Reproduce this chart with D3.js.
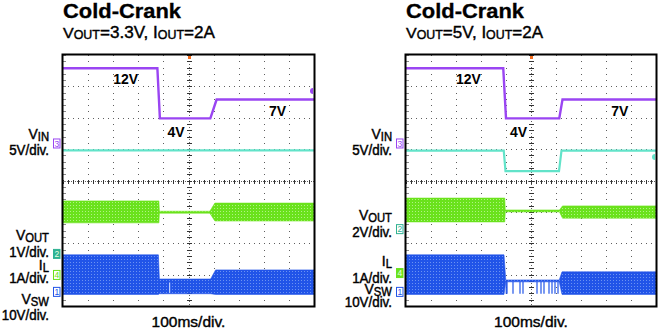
<!DOCTYPE html>
<html><head><meta charset="utf-8">
<script src="https://cdn.jsdelivr.net/npm/d3@7"></script>
<style>
html,body{margin:0;padding:0;background:#fff;}
svg{display:block;font-family:"Liberation Sans",Arial,Helvetica,sans-serif;}
</style></head><body>
<svg id="chart" width="660" height="328"></svg>
<script>
// ---- time base: 10 divisions of 100 ms ----
const timeTicks = [0, 100, 200, 300, 400, 500, 600, 700, 800, 900, 1000];
const divTicks  = [-4, -3, -2, -1, 0, 1, 2, 3, 4];

// ---- panel A: VOUT = 3.3 V, IOUT = 2 A ----
// [time ms, volts]
const vinA  = [[0, 12], [376, 12], [386, 4], [587, 4], [612, 7], [1000, 7]];
const voutA = [[0, 3.3], [1000, 3.3]];
// ripple envelopes: [time ms, low, high]
const ilA   = [[0, 1.66, 2.36], [382, 1.66, 2.36], [384, 1.97, 2.03], [585, 1.97, 2.03], [605, 1.72, 2.29], [1000, 1.72, 2.29]];
const vswA  = [[0, -0.8, 11.8], [380, -0.8, 11.8], [384, -0.6, 4.1], [588, -0.6, 4.1], [608, -0.8, 7.0], [1000, -0.8, 7.0]];
const vswGapsA = [425];

// ---- panel B: VOUT = 5 V, IOUT = 2 A ----
const vinB  = [[0, 12], [389, 12], [400, 4], [613, 4], [626, 7], [1000, 7]];
const voutB = [[0, 5.0], [391, 5.0], [398, 3.7], [612, 3.7], [622, 5.0], [1000, 5.0]];
const ilB   = [[0, 1.63, 2.39], [395, 1.63, 2.39], [397, 1.95, 2.01], [614, 1.95, 2.01], [626, 1.75, 2.14], [1000, 1.75, 2.14]];
const vswB  = [[0, -0.8, 11.8], [392, -0.8, 11.8], [399, 3.2, 3.8], [613, 3.2, 3.8], [624, -0.8, 6.4], [1000, -0.8, 6.4]];
const vswSpikesB = [401, 404, 428, 456, 468, 524, 540, 552, 572, 584, 596, 608];

// ---- annotations of the input level ----
const levelText  = ["12V", "4V", "7V"];
const levelValue = [12, 4, 7];
const levelTime  = [250, 450, 855];

// ---- channel names / scales ----
const chanMain = ["V", "V", "I", "V"];
const chanSub  = ["IN", "OUT", "L", "SW"];
const scaleTextA = ["5V/div.", "1V/div.", "1A/div.", "10V/div."];
const scaleTextB = ["5V/div.", "2V/div.", "1A/div.", "10V/div."];
const vPerDivA = {vin: 5, vout: 1, il: 1, vsw: 10};
const vPerDivB = {vin: 5, vout: 2, il: 1, vsw: 10};

const titleText = "Cold-Crank";
const voutSetting = ["3.3V", "5V"];
const ioutSetting = "2A";
const timeLabel = "100ms/div.";

// ---- colours ----
const C = {
  vin: "#9a45f2", vout: "#62e3c9", il: "#6ae21c", vsw: "#2154e8",
  ilDot: "#b0f384", vswDot: "#6b92f2", voutMark: "#2fb293", grid: "#5e5e5e"
};

const svg = d3.select("#chart");
const defs = svg.append("defs");
function halftone(id, base, dot) {
  const p = defs.append("pattern").attr("id", id).attr("patternUnits", "userSpaceOnUse")
    .attr("width", 3).attr("height", 3);
  p.append("rect").attr("width", 3).attr("height", 3).attr("fill", base);
  p.append("rect").attr("x", 1).attr("y", 1).attr("width", 1).attr("height", 1).attr("fill", dot);
}
halftone("htGreen", C.il, C.ilDot);
halftone("htBlue", C.vsw, C.vswDot);

// ground reference of each channel, in divisions from screen centre
const groundA = {vin: 1.18, vout: -2.34, il: -3.01, vsw: -3.55};
const groundB = {vin: 1.18, vout: -1.55, il: -2.95, vsw: -3.55};

const panels = [
  {x0: 63, x1: 314, vin: vinA, vout: voutA, il: ilA, vsw: vswA, gaps: vswGapsA, spikes: [],
   ground: groundA, vdiv: vPerDivA, scales: scaleTextA, vo: voutSetting[0], filled: "vout", subW: 152,
   labelY: [139, 154.5, 240, 257, 270, 283, 304, 319.5], rightMarks: [{y: 91, c: C.vin}]},
  {x0: 406, x1: 656, vin: vinB, vout: voutB, il: ilB, vsw: vswB, gaps: [], spikes: vswSpikesB,
   ground: groundB, vdiv: vPerDivB, scales: scaleTextB, vo: voutSetting[1], filled: "il", subW: 137,
   labelY: [139, 155, 220, 237, 266, 282.5, 294, 306.5], rightMarks: [{y: 157, c: C.vout}]}
];

const yTop = 55, yBot = 306;

// squeeze a text horizontally to a share of its natural width
function squeeze(sel, k) {
  const w = sel.node().getComputedTextLength();
  sel.attr("textLength", w * k).attr("lengthAdjust", "spacingAndGlyphs");
  return sel;
}

panels.forEach(P => {
  const g = svg.append("g");
  const x = d3.scaleLinear().domain([0, 1000]).range([P.x0, P.x1]);
  const y = d3.scaleLinear().domain([-4, 4]).range([yBot, yTop]);
  const ch = (key, v) => y(P.ground[key] + v / P.vdiv[key]);

  // ---- titles ----
  g.append("text").attr("x", P.x0).attr("y", 18).attr("font-weight", "bold")
    .attr("font-size", 19.5).attr("textLength", 118).attr("lengthAdjust", "spacingAndGlyphs")
    .attr("stroke", "#000").attr("stroke-width", 0.3).text(titleText);
  const st = g.append("text").attr("x", P.x0).attr("y", 37.5).attr("font-size", 16.5)
    .attr("stroke", "#000").attr("stroke-width", 0.4);
  st.append("tspan").attr("font-size", 15.5).text("V");
  st.append("tspan").attr("font-size", 12).attr("dy", 1).text("OUT");
  st.append("tspan").attr("dy", -1).text("=" + P.vo + ", I");
  st.append("tspan").attr("font-size", 12).attr("dy", 1).text("OUT");
  st.append("tspan").attr("dy", -1).text("=" + ioutSetting);
  st.attr("textLength", P.subW).attr("lengthAdjust", "spacingAndGlyphs");

  // ---- graticule ----
  const grid = g.append("g").attr("fill", C.grid);
  const minorT = d3.range(0, 1000.1, 20);
  const minorD = d3.range(-4, 4.01, 0.2);
  timeTicks.filter(t => t > 0 && t < 1000 && t !== 500).forEach(t => {
    minorD.forEach(d => grid.append("rect").attr("x", Math.round(x(t))).attr("y", Math.round(y(d)))
      .attr("width", 1).attr("height", 1));
  });
  divTicks.filter(d => d > -4 && d < 4 && d !== 0).forEach(d => {
    minorT.forEach(t => grid.append("rect").attr("x", Math.round(x(t))).attr("y", Math.round(y(d)))
      .attr("width", 1).attr("height", 1));
  });
  // centre cross with minor ticks
  const cx = Math.round(x(500)), cy = Math.round(y(0));
  grid.append("line").attr("x1", cx + 0.5).attr("x2", cx + 0.5).attr("y1", yTop).attr("y2", yBot)
    .attr("stroke", C.grid).attr("stroke-dasharray", "1,2");
  grid.append("line").attr("x1", P.x0).attr("x2", P.x1).attr("y1", cy + 0.5).attr("y2", cy + 0.5)
    .attr("stroke", C.grid).attr("stroke-dasharray", "1,1");
  minorD.forEach(d => grid.append("rect").attr("x", cx - 2).attr("y", Math.round(y(d)))
    .attr("width", 5).attr("height", 1).attr("fill", "#333"));
  minorT.forEach(t => grid.append("rect").attr("x", Math.round(x(t))).attr("y", cy - 1)
    .attr("width", 1).attr("height", 4).attr("fill", "#333"));
  // left edge minor ticks
  minorD.forEach(d => grid.append("rect").attr("x", P.x0).attr("y", Math.round(y(d)))
    .attr("width", 3).attr("height", 1).attr("fill", "#888"));

  // ---- traces ----
  const line = key => d3.line().x(d => x(d[0])).y(d => ch(key, d[1]));
  const band = key => d3.area().x(d => x(d[0])).y0(d => ch(key, d[1])).y1(d => ch(key, d[2]));

  g.append("path").datum(P.vsw).attr("d", band("vsw")).attr("fill", "url(#htBlue)")
    .attr("stroke", C.vsw).attr("stroke-width", 1).attr("stroke-opacity", 0.6);
  P.gaps.forEach(t => g.append("line").attr("x1", x(t)).attr("x2", x(t))
    .attr("y1", ch("vsw", 3.0)).attr("y2", ch("vsw", -0.3)).attr("stroke", "#d8e4ff").attr("stroke-width", 1));
  P.spikes.forEach(t => g.append("line").attr("x1", x(t)).attr("x2", x(t))
    .attr("y1", ch("vsw", 3.2)).attr("y2", ch("vsw", -0.6)).attr("stroke", C.vsw).attr("stroke-width", 1.2));

  g.append("path").datum(P.il).attr("d", band("il")).attr("fill", "url(#htGreen)")
    .attr("stroke", C.il).attr("stroke-width", 1).attr("stroke-opacity", 0.6);

  g.append("path").datum(P.vout).attr("d", line("vout")).attr("fill", "none")
    .attr("stroke", C.vout).attr("stroke-width", 2.2);
  g.append("path").datum(P.vin).attr("d", line("vin")).attr("fill", "none")
    .attr("stroke", C.vin).attr("stroke-width", 2.4);

  // level annotations
  levelText.forEach((s, i) => {
    const off = i === 1 ? 18.5 : 16;
    g.append("text").attr("x", x(levelTime[i])).attr("y", ch("vin", levelValue[i]) + off)
      .attr("text-anchor", "middle").attr("font-weight", "bold").attr("font-size", 14).text(s);
  });

  // ---- frame ----
  g.append("rect").attr("x", P.x0 - 0.5).attr("y", yTop - 0.5).attr("width", P.x1 - P.x0 + 1)
    .attr("height", yBot - yTop + 1).attr("fill", "none").attr("stroke", "#000").attr("stroke-width", 2);
  // trigger position
  g.append("rect").attr("x", cx - 1).attr("y", yTop + 1).attr("width", 3).attr("height", 3).attr("fill", "#f26a1b");
  // right-edge markers
  P.rightMarks.forEach(m => g.append("path")
    .attr("d", d3.arc()({innerRadius: 0, outerRadius: 3, startAngle: Math.PI, endAngle: 2 * Math.PI}))
    .attr("transform", `translate(${P.x1 - 1},${m.y})`).attr("fill", m.c));

  // ---- channel ground markers ----
  const marks = [["vin", "3", C.vin], ["vout", "2", C.voutMark], ["il", "4", C.il], ["vsw", "1", C.vsw]];
  marks.forEach(([k, n, c]) => {
    const yy = ch(k, 0), filled = P.filled === k;
    g.append("rect").attr("x", P.x0 - 9.5).attr("y", yy - 4.5).attr("width", 6.5).attr("height", 9)
      .attr("fill", filled ? c : "#fff").attr("stroke", c).attr("stroke-width", 1);
    g.append("text").attr("x", P.x0 - 6.2).attr("y", yy + 3.3).attr("text-anchor", "middle")
      .attr("font-size", 8.5).attr("fill", filled ? "#e8ffe0" : c).text(n);
  });

  // ---- channel labels ----
  const lx = P.x0 - 14;
  chanMain.forEach((m, i) => {
    const t = g.append("text").attr("x", lx).attr("y", P.labelY[2 * i]).attr("text-anchor", "end")
      .attr("font-size", 15.5).attr("stroke", "#000").attr("stroke-width", 0.45);
    t.append("tspan").text(m);
    t.append("tspan").attr("font-size", 12.5).attr("dy", 2).text(chanSub[i]);
    squeeze(t, 0.9);
    squeeze(g.append("text").attr("x", lx).attr("y", P.labelY[2 * i + 1]).attr("text-anchor", "end")
      .attr("font-size", 14.5).attr("stroke", "#000").attr("stroke-width", 0.45).text(P.scales[i]), 0.92);
  });

  // ---- time base label ----
  g.append("text").attr("x", x(500)).attr("y", 326.5).attr("text-anchor", "middle")
    .attr("font-size", 15.5).attr("stroke", "#000").attr("stroke-width", 0.4).text(timeLabel);
});
</script>
</body></html>
